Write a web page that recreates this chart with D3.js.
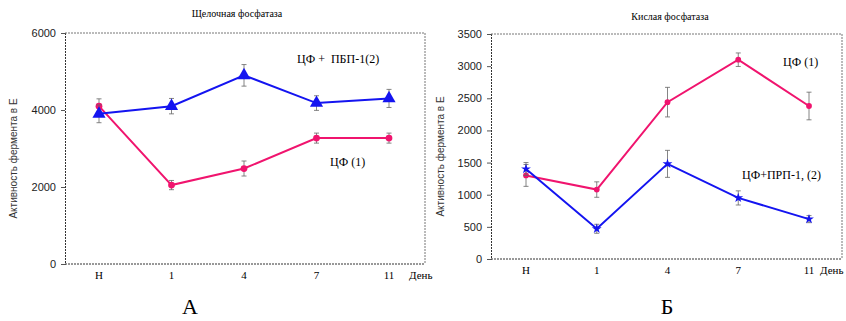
<!DOCTYPE html>
<html>
<head>
<meta charset="utf-8">
<script src="https://cdn.jsdelivr.net/npm/d3@7"></script>
<style>
	body { margin: 0; background: #fff; }
	svg { display: block; }
</style>
</head>
<body>
<svg width="846" height="321"></svg>
<script>
var days = ["Н", "1", "4", "7", "11"];

// А - щелочная фосфатаза
var alkPure = [4100, 2050, 2480, 3270, 3270],
	alkPureErr = [190, 120, 195, 130, 130],
	alkPbp = [3900, 4100, 4900, 4180, 4300],
	alkPbpErr = [230, 200, 280, 190, 235],
	alkTicks = [0, 2000, 4000, 6000];

// Б - кислая фосфатаза
var acidPure = [1300, 1080, 2440, 3100, 2380],
	acidPureErr = [170, 120, 230, 105, 215],
	acidPrp = [1400, 470, 1480, 950, 620],
	acidPrpErr = [100, 70, 210, 110, 55],
	acidTicks = [0, 500, 1000, 1500, 2000, 2500, 3000, 3500];

var pink = "#f0146e",
	blue = "#1414f0",
	SERIF = "'Liberation Serif', 'Times New Roman', serif",
	SANS = "'Liberation Sans', Arial, sans-serif";

var svg = d3.select("svg");

function drawPanel(p) {
	var x = d3.scalePoint().domain(days).range([p.x0, p.x1]),
		y = d3.scaleLinear().domain([0, p.max]).range([p.bottom, p.top]);

	var g = svg.append("g");

	// frame (dotted)
	g.append("line")
		.attr("x1", p.left).attr("x2", p.right)
		.attr("y1", y(p.max)).attr("y2", y(p.max))
		.attr("stroke", "#777").attr("stroke-dasharray", "2,1");
	g.append("line")
		.attr("x1", p.right).attr("x2", p.right)
		.attr("y1", y(p.max)).attr("y2", y(0))
		.attr("stroke", "#777").attr("stroke-dasharray", "2,1");
	g.append("line")
		.attr("x1", p.left).attr("x2", p.right)
		.attr("y1", y(0)).attr("y2", y(0))
		.attr("stroke", "#333").attr("stroke-dasharray", "2,1");

	var yAxis = g.append("g")
		.attr("transform", "translate(" + p.left + ",0)")
		.call(d3.axisLeft(y).tickValues(p.ticks).tickSize(4).tickPadding(5).tickFormat(d3.format("d")));
	yAxis.select(".domain").attr("stroke", "#333").attr("stroke-dasharray", "2,1");
	yAxis.selectAll(".tick line").attr("stroke", "#555");
	yAxis.selectAll("text")
		.style("font-family", SANS)
		.style("font-size", "11px")
		.attr("fill", "#222");

	// x labels
	g.selectAll(".day")
		.data(days)
		.enter().append("text")
		.attr("x", function (d) { return x(d); })
		.attr("y", y(0) + 15)
		.attr("text-anchor", "middle")
		.style("font-family", SERIF)
		.style("font-size", "11px")
		.text(function (d) { return d; });
	g.append("text")
		.attr("x", x("11") + p.denDx)
		.attr("y", y(0) + 15)
		.style("font-family", SERIF)
		.style("font-size", "11px")
		.text("День");

	// y title
	g.append("text")
		.attr("transform", "translate(" + p.ylabX + "," + ((y(0) + y(p.max)) / 2 + 10) + ") rotate(-90)")
		.attr("text-anchor", "middle")
		.style("font-family", SANS)
		.style("font-size", "10px")
		.attr("fill", "#333")
		.text("Активность фермента в Е");

	// chart title
	g.append("text")
		.attr("x", p.titleX)
		.attr("y", p.titleY)
		.attr("text-anchor", "middle")
		.style("font-family", SERIF)
		.style("font-size", "10px")
		.text(p.title);

	var line = d3.line()
		.x(function (d, i) { return x(days[i]); })
		.y(function (d) { return y(d); });

	p.series.forEach(function (s) {
		// error bars
		var eb = g.append("g").selectAll("g")
			.data(s.values)
			.enter().append("g")
			.attr("stroke", "#666")
			.attr("stroke-width", 0.8);
		eb.append("line")
			.attr("x1", function (d, i) { return x(days[i]); })
			.attr("x2", function (d, i) { return x(days[i]); })
			.attr("y1", function (d, i) { return y(d + s.err[i]); })
			.attr("y2", function (d, i) { return y(d - s.err[i]); });
		[1, -1].forEach(function (sign) {
			eb.append("line")
				.attr("x1", function (d, i) { return x(days[i]) - 2.5; })
				.attr("x2", function (d, i) { return x(days[i]) + 2.5; })
				.attr("y1", function (d, i) { return y(d + sign * s.err[i]); })
				.attr("y2", function (d, i) { return y(d + sign * s.err[i]); });
		});

		g.append("path")
			.datum(s.values)
			.attr("fill", "none")
			.attr("stroke", s.color)
			.attr("stroke-width", 2)
			.attr("d", line);

		g.append("g").selectAll("path")
			.data(s.values)
			.enter().append("path")
			.attr("transform", function (d, i) { return "translate(" + x(days[i]) + "," + y(d) + ")"; })
			.attr("fill", s.color)
			.attr("d", d3.symbol().type(s.symbol).size(s.size));

		g.append("text")
			.attr("x", s.labX)
			.attr("y", s.labY)
			.style("font-family", SERIF)
			.style("font-size", "12px")
			.style("white-space", "pre")
			.text(s.label);
	});

	svg.append("text")
		.attr("x", p.letterX)
		.attr("y", 314)
		.attr("text-anchor", "middle")
		.style("font-family", SERIF)
		.style("font-size", "22px")
		.text(p.letter);
}

drawPanel({
	left: 65, right: 425, top: 33, bottom: 264,
	x0: 99, x1: 389, max: 6000, ticks: alkTicks, denDx: 20,
	ylabX: 17, title: "Щелочная фосфатаза", titleX: 237, titleY: 17,
	letter: "А", letterX: 190,
	series: [
		{ values: alkPure, err: alkPureErr, color: pink, symbol: d3.symbolCircle, size: 36, label: "ЦФ (1)", labX: 330, labY: 166 },
		{ values: alkPbp, err: alkPbpErr, color: blue, symbol: d3.symbolTriangle, size: 75, label: "ЦФ +  ПБП-1(2)", labX: 297, labY: 63 }
	]
});

drawPanel({
	left: 491, right: 842, top: 34, bottom: 259,
	x0: 526, x1: 809, max: 3500, ticks: acidTicks, denDx: 11,
	ylabX: 444, title: "Кислая фосфатаза", titleX: 670, titleY: 20,
	letter: "Б", letterX: 667,
	series: [
		{ values: acidPure, err: acidPureErr, color: pink, symbol: d3.symbolCircle, size: 26, label: "ЦФ (1)", labX: 783, labY: 66 },
		{ values: acidPrp, err: acidPrpErr, color: blue, symbol: d3.symbolStar, size: 30, label: "ЦФ+ПРП-1, (2)", labX: 742, labY: 179 }
	]
});
</script>
</body>
</html>
